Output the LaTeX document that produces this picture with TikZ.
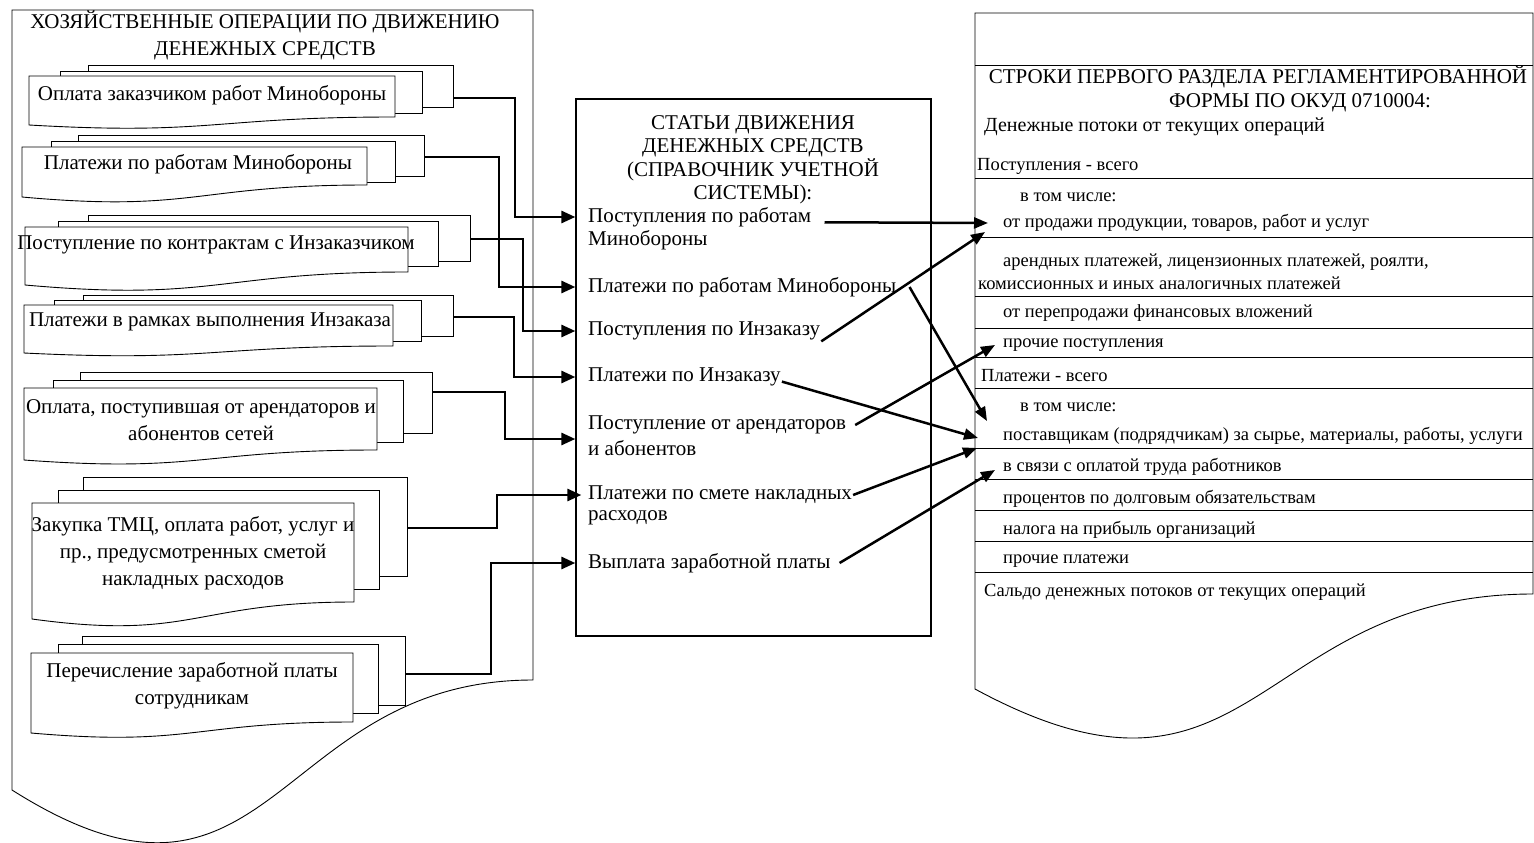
\documentclass[tikz,border=0pt]{standalone}
\usepackage{fontspec}
\setmainfont{Liberation Serif}
\usetikzlibrary{arrows.meta}

\begin{document}
\begin{tikzpicture}[x=1pt,y=-1pt]
\tikzstyle{every node}=[inner sep=1pt]
\tikzstyle{big}=[font=\fontsize{21}{23.5}\selectfont]
\tikzstyle{boxtext}=[font=\fontsize{21}{27}\selectfont, align=center]
\tikzstyle{row}=[font=\fontsize{18.5}{21}\selectfont, anchor=west]
\tikzstyle{page}=[draw, fill=white, line width=0.9pt]
\tikzstyle{link}=[line width=2.8pt, -{Triangle[length=14pt,width=12pt]}]
\tikzstyle{flow}=[line width=2.5pt, -{Triangle[length=14pt,width=11pt]}]
\fill[white] (0,0) rectangle (1534,843);
\useasboundingbox (0,0) rectangle (1534,843);

% left panel
\draw[page] (12,10) -- (533,10) -- (533,680) .. controls (272.5,680) and (272.5,955) .. (12,790) -- cycle;
\node (optitle) [boxtext] at (265,35) {ХОЗЯЙСТВЕННЫЕ ОПЕРАЦИИ ПО ДВИЖЕНИЮ\\ДЕНЕЖНЫХ СРЕДСТВ};

% stacked documents
\draw[page] (88,65) rectangle (453,107);
\draw[page] (60,71) rectangle (422,113);
\draw[page] (29,76) -- (395,76) -- (395,117) .. controls (212,117) and (212,135.5) .. (29,125) -- cycle;
\draw[page] (78,135) rectangle (424,176);
\draw[page] (51,141) rectangle (395,182);
\draw[page] (22,147) -- (367,147) -- (367,185) .. controls (194.5,185) and (194.5,212.7) .. (22,197) -- cycle;
\draw[page] (88,215) rectangle (470,261);
\draw[page] (58,221) rectangle (438,266);
\draw[page] (25,227) -- (408,227) -- (408,272) .. controls (216.5,272) and (216.5,302) .. (25,285) -- cycle;
\draw[page] (83,295) rectangle (453,336);
\draw[page] (54,300) rectangle (421,341);
\draw[page] (24,305) -- (393,305) -- (393,346) .. controls (208.5,346) and (208.5,362) .. (24,353) -- cycle;
\draw[page] (80,372) rectangle (432,433);
\draw[page] (53,380) rectangle (403,442);
\draw[page] (24,388) -- (377,388) -- (377,450) .. controls (200.5,450) and (200.5,473) .. (24,460) -- cycle;
\draw[page] (83,477) rectangle (407,576);
\draw[page] (58,490) rectangle (379,589);
\draw[page] (32,503) -- (354,503) -- (354,602) .. controls (193,602) and (193,641) .. (32,619) -- cycle;
\draw[page] (82,636) rectangle (405,705);
\draw[page] (58,644) rectangle (378,713);
\draw[page] (31,653) -- (353,653) -- (353,722) .. controls (192,722) and (192,747) .. (31,733) -- cycle;

\node (op1) [boxtext] at (212,95) {Оплата заказчиком работ Минобороны};
\node (op2) [boxtext] at (198,164) {Платежи по работам Минобороны};
\node (op3) [boxtext] at (216,245) {Поступление по контрактам с Инзаказчиком};
\node (op4) [boxtext] at (210,322) {Платежи в рамках выполнения Инзаказа};
\node (op5) [boxtext] at (201,420) {Оплата, поступившая от арендаторов и\\абонентов сетей};
\node (op6) [boxtext] at (193,553) {Закупка ТМЦ, оплата работ, услуг и\\пр., предусмотренных сметой\\накладных расходов};
\node (op7) [boxtext] at (192,686) {Перечисление заработной платы\\сотрудникам};

\coordinate (out1) at (453,98);
\coordinate (out2) at (424,157);
\coordinate (out3) at (470,239);
\coordinate (out4) at (453,317);
\coordinate (out5) at (432,392);
\coordinate (out6) at (407,528);
\coordinate (out7) at (405,674);

% cash flow items
\node (stat) [draw, line width=1.3pt, minimum width=355pt, minimum height=537pt, inner sep=0pt] at (753.5,367.5) {};
\node (stitle) [big, align=center] at (753,160) {СТАТЬИ ДВИЖЕНИЯ\\ДЕНЕЖНЫХ СРЕДСТВ\\(СПРАВОЧНИК УЧЕТНОЙ\\СИСТЕМЫ):};
\node (st1) [big, anchor=west] at (587,217) {Поступления по работам};
\node (st1x) [big, anchor=west] at (587,240) {Минобороны};
\node (st2) [big, anchor=west] at (587,287) {Платежи по работам Минобороны};
\node (st3) [big, anchor=west] at (587,331) {Поступления по Инзаказу};
\node (st4) [big, anchor=west] at (587,377) {Платежи по Инзаказу};
\node (st5) [big, anchor=west] at (587,425) {Поступление от арендаторов};
\node (st5x) [big, anchor=west] at (587,448) {и абонентов};
\node (st6) [big, anchor=west] at (587,495) {Платежи по смете накладных};
\node (st6x) [big, anchor=west] at (587,518) {расходов};
\node (st7) [big, anchor=west] at (587,563) {Выплата заработной платы};

% report form
\draw[page] (975,13) -- (1533,13) -- (1533,594) .. controls (1254,594) and (1254,840) .. (975,689) -- cycle;
\foreach \y in {65,178,237,296,328,357,388,448,479,510,541,572}
  \draw[line width=0.9pt] (975,\y) -- (1533,\y);
\node (rt1) [big] at (1258,77) {СТРОКИ ПЕРВОГО РАЗДЕЛА РЕГЛАМЕНТИРОВАННОЙ};
\node (rt2) [big] at (1300,103) {ФОРМЫ ПО ОКУД 0710004:};
\node (rDP) [row, font=\fontsize{20}{22}\selectfont] at (983,127) {Денежные потоки от текущих операций};
\node (rP) [row] at (976,166) {Поступления - всего};
\node (rV1) [row] at (1019,197) {в том числе:};
\node (rA) [row] at (1002,223) {от продажи продукции, товаров, работ и услуг};
\node (rB1) [row] at (1002,262) {арендных платежей, лицензионных платежей, роялти,};
\node (rB2) [row] at (977,283) {комиссионных и иных аналогичных платежей};
\node (rC) [row] at (1002,313) {от перепродажи финансовых вложений};
\node (rD) [row] at (1002,345) {прочие поступления};
\node (rE) [row] at (980,376) {Платежи - всего};
\node (rV2) [row] at (1019,407) {в том числе:};
\node (rF) [row] at (1002,436) {поставщикам (подрядчикам) за сырье, материалы, работы, услуги};
\node (rG) [row] at (1002,467) {в связи с оплатой труда работников};
\node (rH) [row] at (1002,499) {процентов по долговым обязательствам};
\node (rI) [row] at (1002,530) {налога на прибыль организаций};
\node (rJ) [row] at (1002,561) {прочие платежи};
\node (rK) [row] at (983,592) {Сальдо денежных потоков от текущих операций};

% operations -> items
\draw[link] (out1) -- (515,98) |- (st1.west -| stat.west);
\draw[link] (out2) -- (499,157) |- (st2.west -| stat.west);
\draw[link] (out3) -- (523,239) |- (st3.west -| stat.west);
\draw[link] (out4) -- (514,317) |- (st4.west -| stat.west);
\draw[link] (out5) -- (505,392) |- ([yshift=-14]st5.west -| stat.west);
\draw[link] (out6) -- (497,528) |- ([xshift=6]st6.west -| stat.west);
\draw[link] (out7) -- (491,674) |- (st7.west -| stat.west);

% items -> form rows
\draw[flow] ([xshift=12]st1.base east) -- ([xshift=-14]rA.west);
\draw[flow] (st3.south east) -- ([xshift=-17,yshift=-9]rA.west);
\draw[flow] ([xshift=12]st2.east) -- ([xshift=-15,yshift=15]rF.west);
\draw[flow] (st4.base east) -- ([xshift=-24,yshift=-2]rF.west);
\draw[flow] ([xshift=8]st5.east) -- ([xshift=-7]rD.west);
\draw[flow] (st6.east) -- ([xshift=-25,yshift=-12]rF.west);
\draw[flow] ([xshift=8]st7.east) -- ([xshift=-7,yshift=-3]rG.west);
\end{tikzpicture}
\end{document}
